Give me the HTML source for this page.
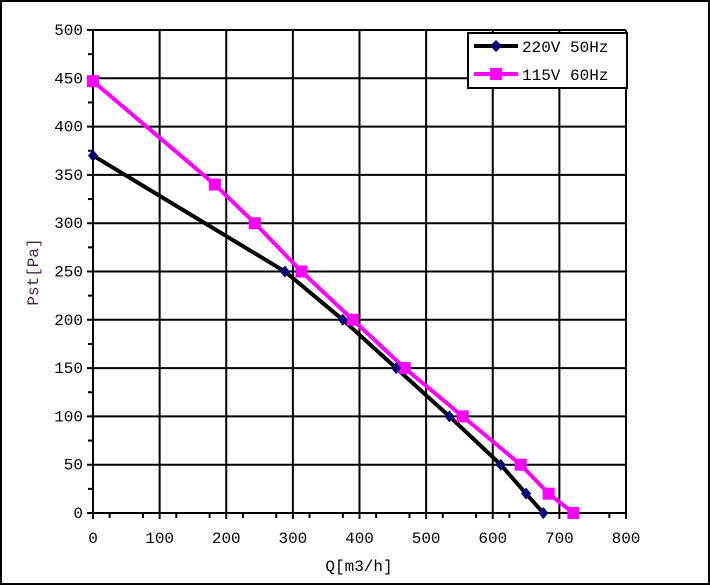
<!DOCTYPE html>
<html><head><meta charset="utf-8"><style>
html,body{margin:0;padding:0;background:#fff}
svg{display:block}
text{font-family:"Liberation Mono","Noto Serif CJK SC",monospace;font-size:16px;fill:#000}
</style></head><body>
<svg id="chart" width="710" height="585" viewBox="0 0 710 585" xmlns="http://www.w3.org/2000/svg">
<rect x="1" y="1" width="708" height="583" fill="#fff" stroke="#000" stroke-width="2"/>
<g id="grid"></g>
<g id="axes"></g>
<g id="series"></g>
<text x="359" y="571" text-anchor="middle" font-size="17">Q[m3/h]</text>
<text transform="translate(38,272) rotate(-90)" text-anchor="middle" font-size="17" style="fill:#4a2050">Pst[Pa]</text>
<g>
<rect x="468" y="33" width="159" height="55" fill="#fff" stroke="#000" stroke-width="2"/>
<g>
<line x1="474" y1="46" x2="518" y2="46" stroke="#000" stroke-width="4"/>
<polygon points="496,40 502,46 496,52 490,46" fill="#00007a"/>
<text x="522" y="52" font-size="17">220V 50Hz</text></g>
<g>
<line x1="474" y1="74" x2="518" y2="74" stroke="#ff00ff" stroke-width="4"/>
<rect x="490" y="68" width="12" height="12" fill="#ff00ff"/>
<text x="522" y="80" font-size="17">115V 60Hz</text></g>
</g>
</svg>
<script>
const xTicks=[0,100,200,300,400,500,600,700,800];
const yTicks=[0,50,100,150,200,250,300,350,400,450,500];
const q220=[0,288,375,455,535,612,650,676];
const p220=[370,250,200,150,100,50,20,0];
const q115=[0,183,243,313,390,468,555,642,684,721];
const p115=[447,340,300,250,200,150,100,50,20,0];
const X0=93,X1=626,Y0=513,Y1=30;
const sx=v=>X0+(v-0)*(X1-X0)/800;
const sy=v=>Y0-(v-0)*(Y0-Y1)/500;
const NS="http://www.w3.org/2000/svg";
function mk(tag,attrs,parent){const e=document.createElementNS(NS,tag);for(const k in attrs)e.setAttribute(k,attrs[k]);parent.appendChild(e);return e;}
const grid=document.getElementById('grid'),axes=document.getElementById('axes'),ser=document.getElementById('series');
xTicks.forEach(t=>{
 const l=mk('line',{x1:sx(t),x2:sx(t),y1:Y1,y2:Y0+6,stroke:'#000','stroke-width':2},grid);
 
 
 const tx=mk('text',{x:sx(t),y:Y0+30,'text-anchor':'middle'},axes);tx.textContent=t;
 
 
});
for(let v=25;v<800;v+=50){const m=mk('line',{x1:sx(v),x2:sx(v),y1:Y0,y2:Y0+5,stroke:'#000','stroke-width':2},axes);
 
 }
yTicks.forEach(t=>{
 const l=mk('line',{x1:X0-6,x2:X1,y1:sy(t),y2:sy(t),stroke:'#000','stroke-width':2},grid);
 
 
 const tx=mk('text',{x:X0-10,y:sy(t)+5,'text-anchor':'end'},axes);tx.textContent=t;
 
 
});
for(let v=25;v<500;v+=50){const m=mk('line',{x1:X0-5,x2:X0,y1:sy(v),y2:sy(v),stroke:'#000','stroke-width':2},axes);
 
 }
const pl1=mk('polyline',{points:q115.map((q,i)=>sx(q)+','+sy(p115[i])).join(' '),fill:'none',stroke:'#ff00ff','stroke-width':4},ser);


const pl0=mk('polyline',{points:q220.map((q,i)=>sx(q)+','+sy(p220[i])).join(' '),fill:'none',stroke:'#000','stroke-width':4},ser);


q115.forEach((q,i)=>{const r=mk('rect',{x:sx(q)-6,y:sy(p115[i])-6,width:12,height:12,fill:'#ff00ff'},ser);
 
 });
q220.forEach((q,i)=>{const x=sx(q),y=sy(p220[i]);const p=mk('polygon',{points:`${x},${y-6} ${x+5},${y} ${x},${y+6} ${x-5},${y}`,fill:'#00007a'},ser);
 
 });
</script>
</body></html>
